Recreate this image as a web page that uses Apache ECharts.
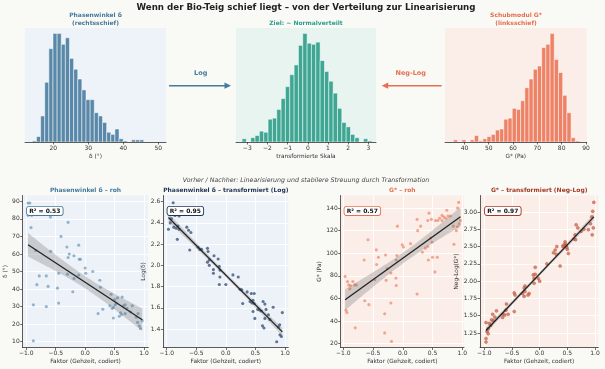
<!DOCTYPE html>
<html><head><meta charset="utf-8">
<script src="https://cdn.jsdelivr.net/npm/echarts@6/dist/echarts.min.js"></script>
<style>html,body{margin:0;padding:0;background:#f9f9f5;} #c{width:605px;height:369px;}</style>
</head><body><div id="c"></div>
<script>
// ---------- DATA ----------
const deltaHistStart = 14.0;
const deltaHistWidth = 1.18;
const deltaHistCounts = [1,5,24,55,86,100,100,90,96,77,67,58,48,39,39,27,24,18,9,7,12,3,1,0,2,2,2];

const transHistStart = -3.26;
const transHistWidth = 0.215;
const transHistCounts = [3,0,4,6,10,9,21,22,30,40,51,62,71,89,100,91,90,92,75,65,56,45,31,18,14,7,4,0,3,1];

const gHistStart = 35.44;
const gHistWidth = 1.73;
const gHistCounts = [2,0,2,0,2,6,1,3,5,7,11,12,21,22,31,30,38,50,58,67,70,87,90,100,76,64,43,27,4,1];

const deltaHistTicks = [20,30,40,50];
const transHistTicks = [-3,-2,-1,0,1,2,3];
const gHistTicks = [40,50,60,70,80,90];
const factorTicks = [-1,-0.5,0,0.5,1];
const deltaRawTicks = [10,20,30,40,50,60,70,80,90];
const deltaLogTicks = [1.4,1.6,1.8,2.0,2.2,2.4,2.6];
const gRawTicks = [20,40,60,80,100,120,140];
const gNegLogTicks = [1.25,1.5,1.75,2.0,2.25,2.5,2.75,3.0];

const deltaRawPoints = [[-0.97,89],[-0.94,89],[-0.97,82],[-0.91,82],[-0.92,75],[-0.59,81],[-0.29,78],[-0.41,70],[-0.31,64],[-0.27,60],[-0.29,58],[-0.19,59],[-0.11,65],[-0.10,57],[-0.08,57],[0.0,52],[0.01,49],[0.13,50],[-0.11,48],[-0.30,48.5],[-0.19,46],[-0.21,38.5],[-0.84,62],[-0.585,61.5],[-0.78,47.5],[-0.66,47.5],[-0.82,42.5],[-0.63,41.5],[-0.45,49],[-0.47,40.5],[-0.88,31],[-0.66,30],[-0.45,32],[-0.88,10.5],[0.25,45],[0.26,41],[0.44,37],[0.22,26],[0.30,28.5],[0.50,34],[0.55,35],[0.63,35.5],[0.42,30.5],[0.46,29],[0.48,29.5],[0.51,31],[0.48,23.5],[0.58,24.5],[0.62,25.5],[0.65,30.5],[0.68,31],[0.71,29],[0.68,26],[0.80,30.5],[0.77,27],[0.87,24],[0.89,21],[0.92,19],[0.94,17.5],[0.90,26],[0.97,22],[0.53,32],[0.60,26.5]];

const deltaLogPoints = [[-0.89,2.59],[-0.97,2.34],[-0.94,2.40],[-0.92,2.44],[-0.88,2.36],[-0.84,2.35],[-0.81,2.37],[-0.79,2.34],[-0.82,2.245],[-0.79,2.465],[-0.86,2.47],[-0.66,2.36],[-0.63,2.33],[-0.59,2.31],[-0.61,2.145],[-0.47,2.17],[-0.44,2.15],[-0.41,2.15],[-0.31,2.16],[-0.30,2.13],[-0.31,2.03],[-0.28,2.05],[-0.28,2.0],[-0.2,2.09],[-0.21,1.96],[-0.21,1.925],[-0.13,2.06],[-0.11,1.99],[-0.10,1.955],[-0.10,1.89],[-0.11,1.82],[0.0,1.82],[0.12,1.91],[0.21,1.89],[0.24,1.775],[0.27,1.77],[0.285,1.64],[0.36,1.75],[0.43,1.735],[0.48,1.735],[0.41,1.66],[0.44,1.645],[0.46,1.67],[0.48,1.64],[0.46,1.565],[0.49,1.50],[0.54,1.585],[0.57,1.58],[0.60,1.57],[0.63,1.66],[0.66,1.635],[0.68,1.585],[0.66,1.50],[0.62,1.43],[0.645,1.41],[0.72,1.535],[0.745,1.49],[0.80,1.605],[0.89,1.42],[0.91,1.44],[0.86,1.28],[0.915,1.345],[0.94,1.33],[0.955,1.555]];

const gRawPoints = [[0.94,145],[0.74,138],[0.92,140],[0.44,135.5],[0.66,133.5],[0.69,132],[0.72,131],[0.76,133],[0.62,131],[0.59,129],[0.66,129],[0.24,130],[0.42,129],[0.30,124],[0.25,120],[-0.09,124],[0.85,124],[0.92,123.5],[0.90,120],[-0.585,112],[-0.01,107.5],[0.01,105.5],[0.13,108.5],[0.47,113.5],[0.49,110],[0.42,106],[0.43,94],[0.50,96.5],[0.58,96.5],[0.54,83.5],[0.38,104.5],[0.33,101],[0.24,64],[0.86,108],[-0.445,103],[-0.44,90],[-0.41,96.5],[-0.29,98.5],[-0.10,98],[-0.11,94],[-0.26,86.5],[-0.20,82.5],[-0.28,76],[-0.115,78],[-0.11,71.5],[-0.65,94],[-0.47,76.5],[-0.97,79.5],[-0.93,75],[-0.91,72],[-0.88,71.5],[-0.89,68.5],[-0.84,75],[-0.81,72],[-0.78,72],[-0.64,58],[-0.57,54.5],[-0.955,49.5],[-0.94,47.5],[-0.305,46.5],[-0.20,56],[-0.80,34],[-0.305,29.5],[-0.19,22],[0.80,133],[0.97,129],[0.95,126],[0.55,129],[0.48,130]];

const gNegLogPoints = [[0.98,3.14],[0.96,3.01],[0.94,2.93],[0.92,2.83],[0.97,2.77],[0.88,2.745],[0.95,2.67],[0.66,2.815],[0.69,2.77],[0.64,2.67],[0.62,2.61],[0.65,2.60],[0.46,2.57],[0.46,2.54],[0.475,2.51],[0.50,2.46],[0.52,2.40],[0.43,2.52],[0.42,2.50],[0.49,2.49],[0.31,2.50],[0.28,2.45],[0.25,2.41],[0.30,2.39],[0.37,2.22],[0.13,2.25],[-0.08,2.20],[-0.08,2.10],[-0.115,2.09],[-0.10,2.04],[-0.025,2.04],[-0.10,1.97],[0.0,2.0],[-0.265,1.93],[-0.28,1.90],[-0.265,1.85],[-0.19,1.82],[-0.21,1.80],[-0.31,1.82],[-0.28,1.78],[-0.46,1.83],[-0.445,1.80],[-0.46,1.56],[-0.6,1.67],[-0.61,1.58],[-0.66,1.52],[-0.67,1.475],[-0.63,1.51],[-0.57,1.52],[-0.78,1.57],[-0.85,1.52],[-0.81,1.48],[-0.84,1.43],[-0.87,1.44],[-0.91,1.39],[-0.885,1.36],[-0.97,1.40],[-0.95,1.27],[-0.93,1.24],[-0.97,1.17],[-0.97,1.12],[-0.93,1.31],[0.80,2.75],[0.75,2.72]];

const r2Values = ['0.53','0.95','0.57','0.97'];

// ---------- LAYOUT / STYLE ----------
const FONT = 'DejaVu Sans';
const C_BLUE = '#457b9d', C_NAVY = '#1d3557', C_TEAL = '#2a9d8f', C_SALMON = '#e76f51', C_RED = '#a63a26';
const fmt = d => v => Number(v).toFixed(d).replace('-', '\u2212');

function bins(start, width, counts){ return counts.map((c,i)=>[start+i*width, start+(i+1)*width, c]); }

function fit(pts){
  const n = pts.length; let mx=0,my=0;
  pts.forEach(p=>{mx+=p[0];my+=p[1];}); mx/=n; my/=n;
  let sxx=0,sxy=0; pts.forEach(p=>{sxx+=(p[0]-mx)**2; sxy+=(p[0]-mx)*(p[1]-my);});
  const b=sxy/sxx, a=my-b*mx;
  let sse=0; pts.forEach(p=>{sse+=(p[1]-a-b*p[0])**2;});
  const s=Math.sqrt(sse/(n-2));
  const xmin=Math.min(...pts.map(p=>p[0])), xmax=Math.max(...pts.map(p=>p[0]));
  const bx=[],lo=[],hi=[];
  for(let i=0;i<=40;i++){const x=xmin+(xmax-xmin)*i/40; const yh=a+b*x; const se=1.99*s*Math.sqrt(1/n+(x-mx)**2/sxx); bx.push(x);lo.push(yh-se);hi.push(yh+se);}
  return {line:[[xmin,a+b*xmin],[xmax,a+b*xmax]], bx, lo, hi, mx, my};
}

const gridsGeo = [
  {left:25, top:28, width:141, height:114, bg:'#edf3f8'},
  {left:236, top:28, width:140, height:114, bg:'#e8f4f0'},
  {left:445, top:28, width:141.7, height:114, bg:'#fbeee9'},
  {left:22.7, top:195.5, width:125.6, height:152, bg:'#edf2f8'},
  {left:163.3, top:195.5, width:125, height:152, bg:'#edf2f8'},
  {left:340.7, top:195.5, width:123.3, height:152, bg:'#fbeee9'},
  {left:480, top:195.5, width:118.3, height:152, bg:'#fbeee9'}
];

const axisCommon = {
  axisLine:{show:true, onZero:false, lineStyle:{color:'#333', width:0.8}},
  axisTick:{show:true, length:2.5, lineStyle:{color:'#333', width:0.7}},
  nameLocation:'middle',
  nameTextStyle:{fontSize:5.8, color:'#333', fontFamily:FONT}
};
function xAx(i, min, max, ticks, dec, name, split){
  return Object.assign({}, axisCommon, {
    gridIndex:i, type:'value', min, max, name, nameGap:11,
    axisTick:Object.assign({}, axisCommon.axisTick, {customValues:ticks}),
    axisLabel:{customValues:ticks, formatter:fmt(dec), fontSize:6, color:'#333', margin:3, fontFamily:FONT},
    splitLine:{show:split, lineStyle:{color:'#ffffff', width:0.9}}
  });
}
function yAx(i, min, max, ticks, dec, name, gap){
  return Object.assign({}, axisCommon, {
    gridIndex:i, type:'value', min, max, name, nameGap:gap, nameRotate:90,
    axisTick:Object.assign({}, axisCommon.axisTick, {customValues:ticks}),
    axisLabel:{customValues:ticks, formatter:fmt(dec), fontSize:6, color:'#333', margin:3, fontFamily:FONT},
    splitLine:{show:true, lineStyle:{color:'#ffffff', width:0.9}}
  });
}

const xAxes = [
  xAx(0, 11.9, 52.2, deltaHistTicks, 0, 'δ (°)', false),
  xAx(1, -3.56, 3.38, transHistTicks, 0, 'transformierte Skala', false),
  xAx(2, 32, 90.3, gHistTicks, 0, 'G* (Pa)', false),
  xAx(3, -1.061, 1.073, factorTicks, 1, 'Faktor (Gehzeit, codiert)', true),
  xAx(4, -1.057, 1.056, factorTicks, 1, 'Faktor (Gehzeit, codiert)', true),
  xAx(5, -1.044, 1.029, factorTicks, 1, 'Faktor (Gehzeit, codiert)', true),
  xAx(6, -1.078, 1.06, factorTicks, 1, 'Faktor (Gehzeit, codiert)', true)
];
const yAxes = [
  {gridIndex:0, type:'value', min:0, max:105, show:false},
  {gridIndex:1, type:'value', min:0, max:105, show:false},
  {gridIndex:2, type:'value', min:0, max:105, show:false},
  yAx(3, 6.7, 93.3, deltaRawTicks, 0, 'δ (°)', 12.5),
  yAx(4, 1.226, 2.658, deltaLogTicks, 1, 'Log(δ)', 17),
  yAx(5, 16.6, 151.1, gRawTicks, 0, 'G* (Pa)', 15),
  yAx(6, 1.04, 3.239, gNegLogTicks, 2, 'Neg-Log(G*)', 17)
];

function histSeries(i, data, color){
  return {type:'custom', xAxisIndex:i, yAxisIndex:i, data, encode:{x:[0,1], y:2}, clip:true, silent:true,
    renderItem:(p, api)=>{
      const p0 = api.coord([api.value(0), 0]), p1 = api.coord([api.value(1), api.value(2)]);
      return {type:'rect', shape:{x:p0[0], y:p1[1], width:p1[0]-p0[0], height:p0[1]-p1[1]},
        style:{fill:color, stroke:'#ffffff', lineWidth:0.5}};
    }};
}
function regSeries(i, pts, color, opacity, border){
  const f = fit(pts);
  return [
    {type:'scatter', xAxisIndex:i, yAxisIndex:i, data:pts, symbolSize:3.1, silent:true, z:2,
      itemStyle:{color, opacity, borderColor:border||color, borderWidth:border?0.4:0}},
    {type:'custom', xAxisIndex:i, yAxisIndex:i, data:[[f.mx, f.my]], silent:true, z:3, clip:true,
      renderItem:(p, api)=>{
        const ptsPx=[];
        for(let k=0;k<f.bx.length;k++) ptsPx.push(api.coord([f.bx[k], f.hi[k]]));
        for(let k=f.bx.length-1;k>=0;k--) ptsPx.push(api.coord([f.bx[k], f.lo[k]]));
        return {type:'polygon', shape:{points:ptsPx}, style:{fill:'rgba(105,105,105,0.28)'}};
      }},
    {type:'line', xAxisIndex:i, yAxisIndex:i, data:f.line, showSymbol:false, silent:true, z:4,
      lineStyle:{color:'#222', width:1.3}}
  ];
}

function txt(x, y, text, font, fill, extra){
  return {type:'text', x, y, silent:true, z:100, style:Object.assign({text, font, fill, align:'center', verticalAlign:'middle'}, extra||{})};
}
function r2box(x, y, val, border){
  return {type:'text', x, y, silent:true, z:100, style:{text:'R² = '+val, font:'bold 6px '+FONT, fill:'#111',
    align:'left', verticalAlign:'top', backgroundColor:'#ffffff', borderColor:border, borderWidth:0.9, borderRadius:2, padding:[1.2,2.2,1,2.2]}};
}

const graphics = [
  txt(306, 7.5, 'Wenn der Bio-Teig schief liegt – von der Verteilung zur Linearisierung', 'bold 8.7px '+FONT, '#222'),
  txt(95.5, 15, 'Phasenwinkel δ', 'bold 6px '+FONT, C_BLUE),
  txt(95.5, 23, '(rechtsschief)', 'bold 6px '+FONT, C_BLUE),
  txt(306, 23, 'Ziel: ~ Normalverteilt', 'bold 6px '+FONT, C_TEAL),
  txt(516, 15, 'Schubmodul G*', 'bold 6px '+FONT, C_SALMON),
  txt(516, 23, '(linksschief)', 'bold 6px '+FONT, C_SALMON),
  txt(200.7, 73.3, 'Log', 'bold 6.5px '+FONT, C_BLUE),
  txt(410.7, 73.3, 'Neg-Log', 'bold 6.5px '+FONT, C_SALMON),
  {type:'line', silent:true, shape:{x1:169, y1:85.7, x2:226, y2:85.7}, style:{stroke:C_BLUE, lineWidth:1.6}},
  {type:'polygon', silent:true, shape:{points:[[231,85.7],[224.5,82.6],[224.5,88.8]]}, style:{fill:C_BLUE}},
  {type:'line', silent:true, shape:{x1:441.7, y1:85.7, x2:386.5, y2:85.7}, style:{stroke:C_SALMON, lineWidth:1.6}},
  {type:'polygon', silent:true, shape:{points:[[381.7,85.7],[388.2,82.6],[388.2,88.8]]}, style:{fill:C_SALMON}},
  txt(306, 180.5, 'Vorher / Nachher: Linearisierung und stabilere Streuung durch Transformation', 'italic 6.3px '+FONT, '#444'),
  txt(85.5, 190.5, 'Phasenwinkel δ – roh', 'bold 6px '+FONT, C_BLUE),
  txt(225.8, 190.5, 'Phasenwinkel δ – transformiert (Log)', 'bold 6px '+FONT, C_NAVY),
  txt(402.3, 190.5, 'G* – roh', 'bold 6px '+FONT, C_SALMON),
  txt(539.2, 190.5, 'G* – transformiert (Neg-Log)', 'bold 6px '+FONT, C_RED),
  r2box(27, 206.8, r2Values[0], C_BLUE),
  r2box(167.5, 206.8, r2Values[1], C_NAVY),
  r2box(344.5, 206.8, r2Values[2], C_SALMON),
  r2box(485, 206.8, r2Values[3], C_RED)
];

const option = {
  animation:false,
  backgroundColor:'#f9f9f5',
  textStyle:{fontFamily:FONT},
  grid: gridsGeo.map(g=>({left:g.left, top:g.top, width:g.width, height:g.height, show:true, backgroundColor:g.bg, borderWidth:0, containLabel:false})),
  xAxis: xAxes,
  yAxis: yAxes,
  series: [
    histSeries(0, bins(deltaHistStart, deltaHistWidth, deltaHistCounts), '#5a88a9'),
    histSeries(1, bins(transHistStart, transHistWidth, transHistCounts), '#3ea693'),
    histSeries(2, bins(gHistStart, gHistWidth, gHistCounts), '#ee8266'),
    ...regSeries(3, deltaRawPoints, '#6a97b9', 0.7),
    ...regSeries(4, deltaLogPoints, '#2d4a70', 0.75),
    ...regSeries(5, gRawPoints, '#ef8468', 0.7),
    ...regSeries(6, gNegLogPoints, '#d66a50', 0.8, '#a8452e')
  ],
  graphic: graphics
};
const chart = echarts.init(document.getElementById('c'), null, {renderer:'canvas'});
chart.setOption(option);
</script></body></html>
